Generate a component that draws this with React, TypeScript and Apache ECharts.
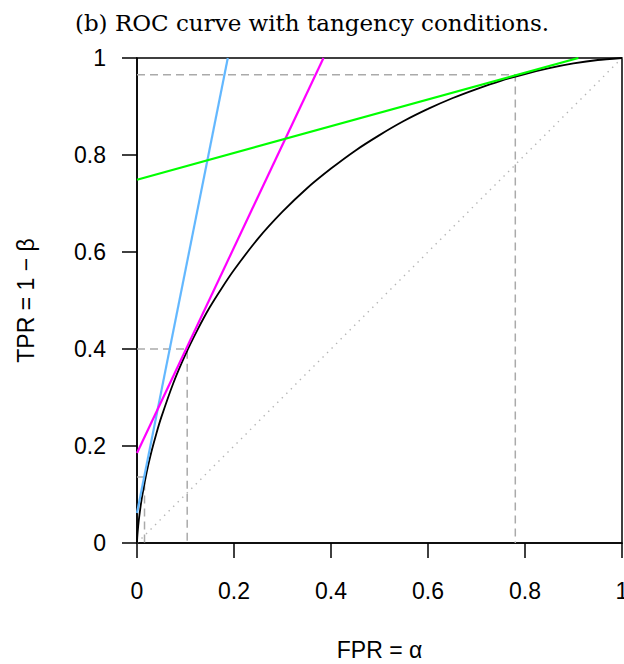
import React, { useEffect, useRef } from "react";
import * as echarts from "echarts";

// ROC curve points
const rocFpr = [0, 0.0001, 0.0005, 0.001, 0.0025, 0.005, 0.01, 0.02, 0.03, 0.04, 0.05, 0.075, 0.1, 0.125, 0.15, 0.175, 0.2, 0.25, 0.3, 0.35, 0.4, 0.45, 0.5, 0.55, 0.6, 0.65, 0.7, 0.75, 0.8, 0.85, 0.9, 0.95, 1];
const rocTpr = [0, 0.0033, 0.011, 0.0183, 0.0354, 0.0575, 0.0924, 0.146, 0.189, 0.226, 0.259, 0.33, 0.389, 0.44, 0.486, 0.526, 0.563, 0.628, 0.683, 0.731, 0.772, 0.809, 0.841, 0.87, 0.895, 0.917, 0.936, 0.953, 0.967, 0.979, 0.9887, 0.9959, 1];

// tangency points
const tangentFpr = [0.0155, 0.1035, 0.78];
const tangentTpr = [0.136, 0.4, 0.9656];

// tangent lines: intercept at FPR = 0 and slope
const lineIntercepts = [0.062, 0.1856, 0.749];
const lineSlopes = [5.01, 2.118, 0.2758];

const xTicks = [0, 0.2, 0.4, 0.6, 0.8, 1];
const yTicks = [0, 0.2, 0.4, 0.6, 0.8, 1];

const lineColors = ["#63B8FF", "#FF00FF", "#00FF00"];

export default function App() {
  const ref = useRef<HTMLDivElement>(null);
  useEffect(() => {
    const chart = echarts.init(ref.current!, null, { renderer: "svg" });
    const guides = tangentFpr.map((a, i) => ({
      type: "line",
      data: [
        [0, tangentTpr[i]],
        [a, tangentTpr[i]],
        [a, 0],
      ],
      showSymbol: false,
      silent: true,
      lineStyle: { color: "#aaaaaa", width: 1.5, type: [8, 5] },
      z: 2,
    }));
    const tangents = lineIntercepts.map((b, i) => ({
      type: "line",
      data: [
        [0, b],
        [(1 - b) / lineSlopes[i], 1],
      ],
      showSymbol: false,
      silent: true,
      lineStyle: { color: lineColors[i], width: 2.2 },
      z: 4,
    }));
    const axisCommon = {
      type: "value",
      min: xTicks[0],
      max: xTicks[xTicks.length - 1],
      interval: 0.2,
      splitLine: { show: false },
      axisLine: { show: true, onZero: false, lineStyle: { color: "#000", width: 1.5 } },
      axisTick: { show: true, inside: false, length: 15, lineStyle: { color: "#000", width: 1.5 } },
      nameTextStyle: { fontFamily: "Liberation Sans", fontSize: 23, color: "#000" },
    };
    chart.setOption({
      animation: false,
      backgroundColor: "#fff",
      title: {
        text: "(b) ROC curve with tangency conditions.",
        left: "center",
        top: 6,
        textStyle: { fontFamily: "DejaVu Serif", fontWeight: "normal", fontSize: 23, color: "#000" },
      },
      grid: {
        left: 137,
        right: 2,
        top: 58,
        bottom: 121,
        show: true,
        borderColor: "#000",
        borderWidth: 1.5,
        outerBoundsMode: "none",
        containLabel: false,
      },
      xAxis: {
        ...axisCommon,
        name: "FPR = α",
        nameLocation: "middle",
        nameGap: 95,
        axisLabel: { fontFamily: "Liberation Sans", fontSize: 23, color: "#000", margin: 36, showMaxLabel: true },
      },
      yAxis: {
        ...axisCommon,
        min: yTicks[0],
        max: yTicks[yTicks.length - 1],
        name: "TPR = 1 − β",
        nameLocation: "middle",
        nameGap: 100,
        axisLabel: { fontFamily: "Liberation Sans", fontSize: 23, color: "#000", margin: 31 },
      },
      series: [
        {
          type: "line",
          data: [
            [0, 0],
            [1, 1],
          ],
          showSymbol: false,
          silent: true,
          lineStyle: { color: "#b5b5b5", width: 1.4, type: [1.4, 5] },
          z: 1,
        },
        ...guides,
        {
          type: "line",
          data: rocFpr.map((x, i) => [x, rocTpr[i]]),
          showSymbol: false,
          silent: true,
          smooth: 0.2,
          lineStyle: { color: "#000", width: 1.8 },
          z: 3,
        },
        ...tangents,
      ],
    });
    return () => chart.dispose();
  }, []);
  return <div ref={ref} style={{ position: "fixed", left: 0, top: 0, width: 624, height: 664 }} />;
}
